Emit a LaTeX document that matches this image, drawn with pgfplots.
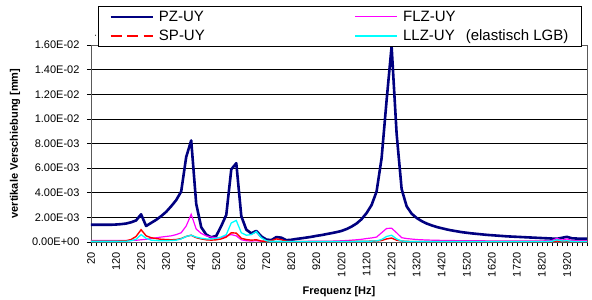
\documentclass[border=0pt]{standalone}
\usepackage{fontspec}
\setmainfont{Liberation Sans}
\usepackage{pgfplots}
\pgfplotsset{compat=1.18}
\usepackage{pgfplotstable}

\pgfplotstableread{
f PZ FLZ SP LLZ
20 1.40e-3 0.12e-3 0.08e-3 0.05e-3
40 1.40e-3 0.12e-3 0.08e-3 0.05e-3
60 1.40e-3 0.12e-3 0.08e-3 0.05e-3
80 1.40e-3 0.12e-3 0.08e-3 0.05e-3
100 1.40e-3 0.12e-3 0.08e-3 0.05e-3
120 1.42e-3 0.12e-3 0.08e-3 0.05e-3
140 1.45e-3 0.12e-3 0.09e-3 0.06e-3
160 1.50e-3 0.12e-3 0.10e-3 0.06e-3
180 1.60e-3 0.13e-3 0.20e-3 0.10e-3
200 1.75e-3 0.14e-3 0.45e-3 0.22e-3
220 2.25e-3 0.18e-3 1.00e-3 0.60e-3
240 1.30e-3 0.22e-3 0.50e-3 0.30e-3
260 1.55e-3 0.28e-3 0.35e-3 0.15e-3
280 1.80e-3 0.34e-3 0.28e-3 0.12e-3
300 2.10e-3 0.40e-3 0.22e-3 0.10e-3
320 2.45e-3 0.45e-3 0.20e-3 0.10e-3
340 2.90e-3 0.50e-3 0.18e-3 0.12e-3
360 3.40e-3 0.60e-3 0.20e-3 0.15e-3
380 4.10e-3 0.75e-3 0.28e-3 0.25e-3
400 6.90e-3 1.30e-3 0.45e-3 0.45e-3
420 8.25e-3 2.25e-3 0.55e-3 0.55e-3
440 3.10e-3 1.05e-3 0.35e-3 0.40e-3
460 1.20e-3 0.70e-3 0.25e-3 0.30e-3
480 0.60e-3 0.50e-3 0.18e-3 0.25e-3
500 0.38e-3 0.40e-3 0.15e-3 0.25e-3
520 0.50e-3 0.35e-3 0.18e-3 0.30e-3
540 1.30e-3 0.35e-3 0.25e-3 0.40e-3
560 2.20e-3 0.50e-3 0.40e-3 0.60e-3
580 5.90e-3 0.60e-3 0.75e-3 1.55e-3
600 6.40e-3 0.50e-3 0.72e-3 1.75e-3
620 2.10e-3 0.18e-3 0.30e-3 0.75e-3
640 1.00e-3 0.10e-3 0.20e-3 0.55e-3
660 0.70e-3 0.08e-3 0.15e-3 0.60e-3
680 0.90e-3 0.10e-3 0.18e-3 0.85e-3
700 0.45e-3 0.06e-3 0.08e-3 0.35e-3
720 0.20e-3 0.05e-3 0.05e-3 0.10e-3
740 0.15e-3 0.05e-3 0.10e-3 0.05e-3
760 0.40e-3 0.05e-3 0.25e-3 0.05e-3
780 0.35e-3 0.05e-3 0.18e-3 0.05e-3
800 0.15e-3 0.05e-3 0.06e-3 0.04e-3
820 0.18e-3 0.05e-3 0.04e-3 0.04e-3
840 0.25e-3 0.05e-3 0.04e-3 0.04e-3
860 0.30e-3 0.05e-3 0.04e-3 0.04e-3
880 0.36e-3 0.05e-3 0.04e-3 0.04e-3
900 0.42e-3 0.06e-3 0.04e-3 0.04e-3
920 0.50e-3 0.06e-3 0.04e-3 0.04e-3
940 0.56e-3 0.06e-3 0.04e-3 0.04e-3
960 0.64e-3 0.07e-3 0.04e-3 0.04e-3
980 0.72e-3 0.07e-3 0.04e-3 0.04e-3
1000 0.80e-3 0.08e-3 0.04e-3 0.04e-3
1020 0.90e-3 0.10e-3 0.04e-3 0.04e-3
1040 1.05e-3 0.12e-3 0.04e-3 0.04e-3
1060 1.25e-3 0.15e-3 0.05e-3 0.04e-3
1080 1.50e-3 0.18e-3 0.05e-3 0.05e-3
1100 1.85e-3 0.22e-3 0.05e-3 0.05e-3
1120 2.35e-3 0.28e-3 0.06e-3 0.06e-3
1140 3.00e-3 0.33e-3 0.07e-3 0.07e-3
1160 4.10e-3 0.40e-3 0.08e-3 0.09e-3
1180 6.80e-3 0.75e-3 0.12e-3 0.20e-3
1200 11.5e-3 1.10e-3 0.25e-3 0.45e-3
1220 15.9e-3 1.12e-3 0.32e-3 0.55e-3
1240 8.80e-3 0.75e-3 0.15e-3 0.25e-3
1260 4.30e-3 0.35e-3 0.08e-3 0.08e-3
1280 2.90e-3 0.28e-3 0.05e-3 0.05e-3
1300 2.30e-3 0.24e-3 0.04e-3 0.04e-3
1320 1.95e-3 0.20e-3 0.04e-3 0.04e-3
1340 1.70e-3 0.18e-3 0.04e-3 0.04e-3
1360 1.50e-3 0.16e-3 0.04e-3 0.04e-3
1380 1.35e-3 0.15e-3 0.04e-3 0.04e-3
1400 1.22e-3 0.14e-3 0.04e-3 0.04e-3
1420 1.12e-3 0.13e-3 0.04e-3 0.04e-3
1440 1.02e-3 0.12e-3 0.04e-3 0.04e-3
1460 0.94e-3 0.12e-3 0.04e-3 0.04e-3
1480 0.87e-3 0.11e-3 0.04e-3 0.04e-3
1500 0.80e-3 0.11e-3 0.04e-3 0.04e-3
1520 0.75e-3 0.10e-3 0.04e-3 0.04e-3
1540 0.70e-3 0.10e-3 0.04e-3 0.04e-3
1560 0.66e-3 0.10e-3 0.04e-3 0.04e-3
1580 0.62e-3 0.10e-3 0.04e-3 0.04e-3
1600 0.58e-3 0.09e-3 0.04e-3 0.04e-3
1620 0.55e-3 0.09e-3 0.04e-3 0.04e-3
1640 0.52e-3 0.09e-3 0.04e-3 0.04e-3
1660 0.49e-3 0.09e-3 0.04e-3 0.04e-3
1680 0.46e-3 0.09e-3 0.04e-3 0.04e-3
1700 0.44e-3 0.09e-3 0.04e-3 0.04e-3
1720 0.42e-3 0.09e-3 0.04e-3 0.04e-3
1740 0.40e-3 0.09e-3 0.04e-3 0.04e-3
1760 0.38e-3 0.09e-3 0.04e-3 0.04e-3
1780 0.36e-3 0.09e-3 0.04e-3 0.04e-3
1800 0.34e-3 0.09e-3 0.04e-3 0.04e-3
1820 0.32e-3 0.09e-3 0.04e-3 0.04e-3
1840 0.30e-3 0.10e-3 0.04e-3 0.05e-3
1860 0.28e-3 0.12e-3 0.04e-3 0.06e-3
1880 0.26e-3 0.30e-3 0.08e-3 0.18e-3
1900 0.34e-3 0.15e-3 0.05e-3 0.08e-3
1920 0.42e-3 0.25e-3 0.05e-3 0.10e-3
1940 0.30e-3 0.12e-3 0.04e-3 0.05e-3
1960 0.28e-3 0.10e-3 0.04e-3 0.04e-3
1980 0.27e-3 0.10e-3 0.04e-3 0.04e-3
2000 0.26e-3 0.10e-3 0.04e-3 0.04e-3
}\data

\definecolor{xlnavy}{RGB}{0,0,128}
\definecolor{xlred}{RGB}{255,0,0}
\definecolor{xlmag}{RGB}{255,0,255}
\definecolor{xlcyan}{RGB}{0,255,255}

\begin{document}
\begin{tikzpicture}
\useasboundingbox (0,0) rectangle (592pt,300pt);
\begin{axis}[
  at={(91pt,58pt)}, anchor=south west,
  scale only axis, width=496pt, height=197pt,
  xmin=20, xmax=2000, ymin=0, ymax=0.016,
  xtick={20,120,...,1920},
  minor xtick={20,40,...,2000},
  ytick={0,0.002,0.004,0.006,0.008,0.01,0.012,0.014,0.016},
  yticklabels={0.00E+00,2.00E-03,4.00E-03,6.00E-03,8.00E-03,1.00E-02,1.20E-02,1.40E-02,1.60E-02},
  /pgf/number format/assume math mode=true,
  /pgf/number format/1000 sep={},
  tick align=outside,
  major tick length=4pt, minor tick length=4pt,
  xtick pos=bottom, ytick pos=left,
  tick style={black, line width=0.6pt},
  minor tick style={black, line width=0.6pt},
  ymajorgrids,
  grid style={black, line width=0.7pt},
  axis line style={draw=gray!70!black, line width=0.9pt},
  tick label style={font=\fontsize{11}{12}\selectfont},
  xticklabel style={rotate=90, anchor=east},
  xticklabel shift=3pt,
  yticklabel shift=4pt,
  every axis y label/.style={at={(rel axis cs:0,0.5)}, xshift=-76pt, rotate=90, anchor=center},
  every axis x label/.style={at={(rel axis cs:0.5,0)}, yshift=-50pt, anchor=center},
  label style={font=\bfseries\fontsize{11}{13}\selectfont},
  xlabel={Frequenz [Hz]},
  ylabel={vertikale Verschiebung [mm]},
  legend columns=2,
  legend image code/.code={\draw[#1] (0pt,0pt) -- (42pt,0pt);},
  legend style={
    at={(rel axis cs:0.0141,1.198)}, anchor=north west,
    draw=black, line width=0.8pt, fill=white,
    inner xsep=11pt, inner ysep=1pt,
    font=\fontsize{15}{16}\selectfont,
    nodes={inner xsep=2pt, inner ysep=3.5pt},
    row sep=0pt,
    /tikz/every odd column/.append style={column sep=3pt},
    /tikz/column 2/.style={column sep=148pt},
    /tikz/column 3/.style={column sep=9pt},
  },
  legend cell align=left,
]
\addplot[xlnavy, line width=2.6pt, line join=round] table[x=f, y=PZ] {\data};
\addlegendentry{PZ-UY}
\addplot[xlmag, line width=1.2pt] table[x=f, y=FLZ] {\data};
\addlegendentry{FLZ-UY}
\addplot[xlred, line width=1.4pt,
  legend image code/.code={\draw[xlred, line width=1.4pt, dash pattern=on 11pt off 5.5pt] (0pt,0pt) -- (42pt,0pt);}]
  table[x=f, y=SP] {\data};
\addlegendentry{SP-UY}
\addplot[xlcyan, line width=1.3pt] table[x=f, y=LLZ] {\data};
\addlegendentry{LLZ-UY\hspace{11pt}(elastisch LGB)}
\end{axis}
\end{tikzpicture}
\end{document}
